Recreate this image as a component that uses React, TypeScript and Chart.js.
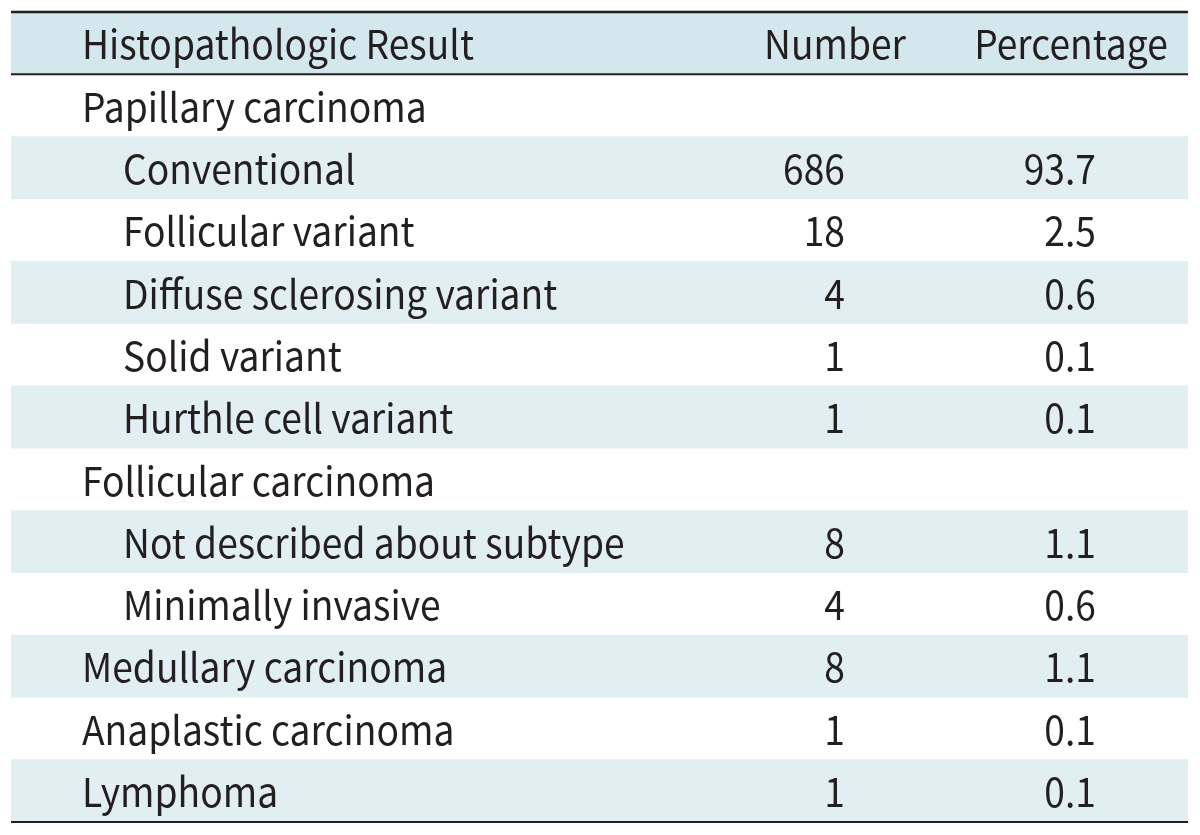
import React, { useEffect, useRef } from "react";
import { Chart, registerables } from "chart.js";

Chart.register(...registerables);

const headerLabels = ["Histopathologic Result", "Number", "Percentage"];
const rowLabels = [
  "Papillary carcinoma",
  "Conventional",
  "Follicular variant",
  "Diffuse sclerosing variant",
  "Solid variant",
  "Hurthle cell variant",
  "Follicular carcinoma",
  "Not described about subtype",
  "Minimally invasive",
  "Medullary carcinoma",
  "Anaplastic carcinoma",
  "Lymphoma",
];
const indentLevels = [0, 1, 1, 1, 1, 1, 0, 1, 1, 0, 0, 0];
const numbers: (number | null)[] = [null, 686, 18, 4, 1, 1, null, 8, 4, 8, 1, 1];
const percentages: (number | null)[] = [null, 93.7, 2.5, 0.6, 0.1, 0.1, null, 1.1, 0.6, 1.1, 0.1, 0.1];

const HEADER_BG = "#d4e7ed";
const STRIPE_BG = "#e1eff2";
const TEXT = "#231f20";
const FONT = "40px 'Noto Sans CJK KR', 'Noto Sans', sans-serif";
const SX = 0.93;

const allRows = ["__header__", ...rowLabels];

function drawText(ctx: CanvasRenderingContext2D, s: string, x: number, y: number, align: CanvasTextAlign) {
  ctx.save();
  ctx.translate(x, y);
  ctx.scale(SX, 1);
  ctx.textAlign = align;
  ctx.fillText(s, 0, 0);
  ctx.restore();
}

const tablePlugin = {
  id: "tableText",
  afterDatasetsDraw(chart: any) {
    const { ctx, chartArea, scales } = chart;
    const y = scales.y;
    const rowH = Math.abs(y.getPixelForValue(1) - y.getPixelForValue(0));
    ctx.save();
    ctx.fillStyle = TEXT;
    ctx.font = FONT;
    ctx.textBaseline = "middle";
    const colLeft = chartArea.left + 71;
    const indent = 41;
    const numRight = 845;
    const pctRight = 1096;
    const hy = y.getPixelForValue(0) + 1;
    drawText(ctx, headerLabels[0], colLeft, hy, "left");
    drawText(ctx, headerLabels[1], 835, hy, "center");
    drawText(ctx, headerLabels[2], 1071, hy, "center");
    rowLabels.forEach((lab, i) => {
      const py = y.getPixelForValue(i + 1) + 1;
      drawText(ctx, lab, colLeft + indentLevels[i] * indent, py, "left");
      if (numbers[i] !== null) drawText(ctx, String(numbers[i]), numRight, py, "right");
      if (percentages[i] !== null) drawText(ctx, (percentages[i] as number).toFixed(1), pctRight, py, "right");
    });
    ctx.strokeStyle = TEXT;
    ctx.lineWidth = 2.5;
    ctx.beginPath();
    ctx.moveTo(chartArea.left, chartArea.top);
    ctx.lineTo(chartArea.right, chartArea.top);
    ctx.stroke();
    ctx.lineWidth = 2;
    const hb = y.getPixelForValue(0) + rowH / 2;
    ctx.beginPath();
    ctx.moveTo(chartArea.left, hb);
    ctx.lineTo(chartArea.right, hb);
    ctx.stroke();
    ctx.beginPath();
    ctx.moveTo(chartArea.left, chartArea.bottom);
    ctx.lineTo(chartArea.right, chartArea.bottom);
    ctx.stroke();
    ctx.restore();
  },
};

export default function App() {
  const ref = useRef<HTMLCanvasElement | null>(null);
  useEffect(() => {
    if (!ref.current) return;
    const shaded = allRows.map((_, i) => (i === 0 || i % 2 === 0 ? 1 : null));
    const colors = allRows.map((_, i) => (i === 0 ? HEADER_BG : STRIPE_BG));
    const chart = new Chart(ref.current, {
      type: "bar",
      data: {
        labels: allRows,
        datasets: [
          {
            data: shaded as any,
            backgroundColor: colors,
            borderWidth: 0,
            barPercentage: 1,
            categoryPercentage: 1,
          },
        ],
      },
      options: {
        indexAxis: "y",
        animation: false,
        responsive: true,
        maintainAspectRatio: false,
        layout: { padding: { left: 11, right: 12, top: 12, bottom: 13 } },
        plugins: { legend: { display: false }, tooltip: { enabled: false }, title: { display: false } },
        scales: {
          x: { display: false, min: 0, max: 1 },
          y: { display: false, offset: true },
        },
      },
      plugins: [tablePlugin],
    });
    return () => chart.destroy();
  }, []);
  return (
    <div style={{ position: "fixed", left: 0, top: 0, width: 1200, height: 835, background: "#fff" }}>
      <canvas ref={ref} />
    </div>
  );
}
